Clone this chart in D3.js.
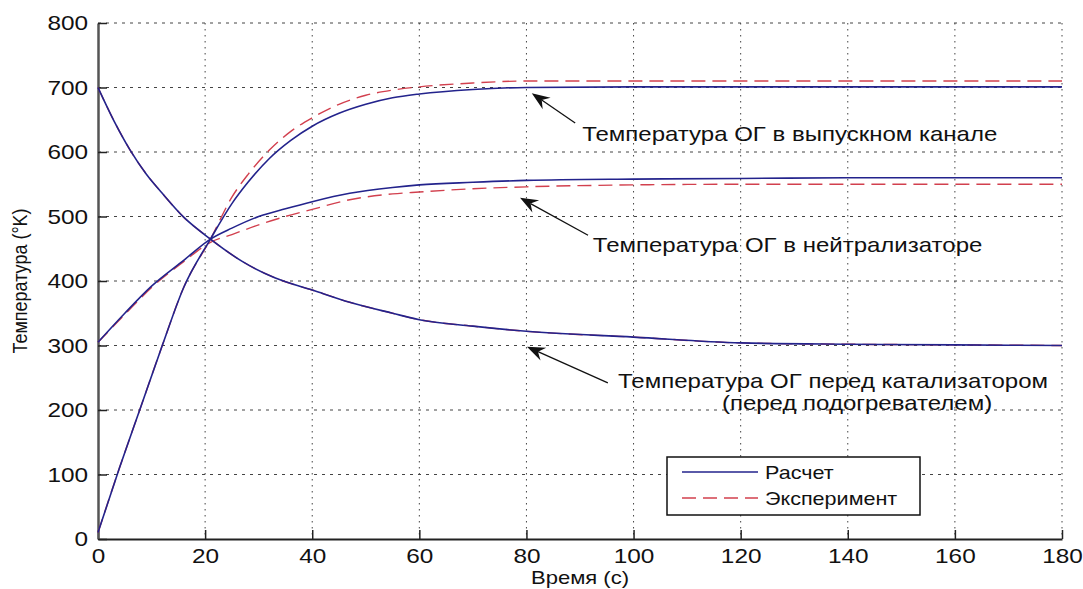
<!DOCTYPE html>
<html>
<head>
<meta charset="utf-8">
<script src="https://cdn.jsdelivr.net/npm/d3@7"></script>
<style>
  body { margin: 0; background: #fff; }
  text { font-family: "Liberation Sans", Arial, sans-serif; fill: #111; }
</style>
</head>
<body>
<div id="wrapper"></div>
<script>
// data: time (s) and temperature (K)
const timeExhaust = [0, 4, 8, 12, 16, 21, 25, 28, 32, 36, 40, 45, 50, 55, 60, 70, 80, 100, 120, 140, 160, 180]
const exhaustCalc = [10, 110, 205, 300, 390, 465, 520, 553, 590, 618, 640, 660, 674, 684, 690, 697, 700, 701, 701, 701, 701, 701]
const exhaustExp  = [10, 110, 205, 300, 390, 465, 530, 565, 603, 632, 653, 674, 688, 696, 701, 707, 710, 710, 710, 710, 710, 710]

const timeNeutr = [0, 5, 10, 16, 21, 25, 30, 35, 40, 47, 55, 60, 70, 80, 100, 120, 140, 160, 180]
const neutrCalc = [305, 350, 392, 432, 465, 482, 500, 512, 523, 536, 545, 549, 553, 556, 558, 559, 560, 560, 560]
const neutrExp  = [305, 348, 390, 430, 460, 472, 487, 500, 511, 526, 535, 538, 543, 546, 549, 550, 550, 550, 550]

const timeCat = [0, 3, 6, 9, 12, 16, 21, 27, 33, 40, 47, 55, 60, 70, 80, 100, 120, 140, 160, 180]
const catCalc = [700, 648, 603, 566, 536, 499, 465, 430, 405, 386, 367, 350, 340, 330, 322, 313, 304, 302, 301, 300]
const catExp  = [700, 648, 603, 566, 536, 499, 465, 430, 405, 386, 367, 350, 340, 330, 322, 313, 304, 302, 301, 300]

const xTicks = [0, 20, 40, 60, 80, 100, 120, 140, 160, 180]
const yTicks = [0, 100, 200, 300, 400, 500, 600, 700, 800]

const legendLabels = ["Расчет", "Эксперимент"]

// annotations: arrow tip, arrow tail, text lines (all in data units)
const annotations = [
  { tip: [81, 691], tail: [89.1, 645], lines: [{ t: 90.4, v: 617, s: "Температура ОГ в выпускном канале" }] },
  { tip: [78.8, 529], tail: [91.5, 471], lines: [{ t: 92.4, v: 445, s: "Температура ОГ в нейтрализаторе" }] },
  { tip: [80.1, 298], tail: [95.2, 242], lines: [
      { t: 97.1, v: 234, s: "Температура ОГ перед катализатором" },
      { t: 116.5, v: 200, s: "(перед подогревателем)" }] }
]

const calcColor = "#23238c"
const expColor = "#d2404e"
const sx = 1.16 // text in the picture is stretched a bit horizontally

const width = 1083
const height = 589
let dimensions = {
  width: width,
  height: height,
  margin: { top: 23, right: 21, bottom: 50, left: 98 },
}
dimensions.boundedWidth = dimensions.width - dimensions.margin.left - dimensions.margin.right
dimensions.boundedHeight = dimensions.height - dimensions.margin.top - dimensions.margin.bottom

const svg = d3.select("#wrapper")
  .append("svg")
  .attr("width", dimensions.width)
  .attr("height", dimensions.height)

const bounds = svg.append("g")
  .attr("transform", `translate(${dimensions.margin.left},${dimensions.margin.top})`)

const xScaler = d3.scaleLinear().domain([0, 180]).range([0, dimensions.boundedWidth])
const yScaler = d3.scaleLinear().domain([0, 800]).range([dimensions.boundedHeight, 0])

// grid
bounds.append("g")
  .selectAll("line")
  .data(xTicks.filter(d => d > 0))
  .join("line")
  .attr("x1", d => xScaler(d)).attr("x2", d => xScaler(d))
  .attr("y1", 0).attr("y2", dimensions.boundedHeight)
  .attr("stroke", "#444")
  .attr("stroke-width", 1)
  .attr("stroke-dasharray", "1.5,4.5")

bounds.append("g")
  .selectAll("line")
  .data(yTicks.filter(d => d > 0))
  .join("line")
  .attr("x1", 0).attr("x2", dimensions.boundedWidth)
  .attr("y1", d => yScaler(d)).attr("y2", d => yScaler(d))
  .attr("stroke", "#444")
  .attr("stroke-width", 1)
  .attr("stroke-dasharray", "3,5")

// axes
const xAxis = bounds.append("g")
  .attr("transform", `translate(0,${dimensions.boundedHeight})`)
  .call(d3.axisBottom(xScaler).tickValues(xTicks).tickSize(-9).tickPadding(9).tickSizeOuter(0))
const yAxis = bounds.append("g")
  .call(d3.axisLeft(yScaler).tickValues(yTicks).tickSize(-9).tickPadding(9).tickSizeOuter(0))

xAxis.select(".domain").attr("stroke", "#222").attr("stroke-width", 2)
yAxis.select(".domain").attr("stroke", "#555").attr("stroke-width", 2.5)
xAxis.selectAll(".tick line").attr("stroke", "#222").attr("stroke-width", 1.5)
yAxis.selectAll(".tick line").attr("stroke", "#222").attr("stroke-width", 1.5)
svg.selectAll(".tick text")
  .attr("font-size", 21)
  .attr("font-family", "Liberation Sans, Arial, sans-serif")
  .attr("fill", "#222")
yAxis.selectAll(".tick text").attr("transform", `scale(${sx},1)`).attr("x", -8.6)
xAxis.selectAll(".tick text").attr("transform", `scale(${sx},1)`)

// axis labels
bounds.append("text")
  .attr("transform", `translate(${dimensions.boundedWidth / 2},${dimensions.boundedHeight + 45}) scale(${sx},1)`)
  .attr("text-anchor", "middle")
  .attr("font-size", 19)
  .text("Время (с)")

bounds.append("text")
  .attr("transform", `translate(-71,${dimensions.boundedHeight / 2}) rotate(-90) scale(1,${sx})`)
  .attr("text-anchor", "middle")
  .attr("font-size", 18)
  .text("Температура (°K)")

// curves
const drawLine = (times, values, color, dash, w) => {
  const lineGen = d3.line()
    .x((d, i) => xScaler(times[i]))
    .y(d => yScaler(d))
    .curve(d3.curveMonotoneX)
  bounds.append("path")
    .attr("d", lineGen(values))
    .attr("fill", "none")
    .attr("stroke", color)
    .attr("stroke-width", w)
    .attr("stroke-dasharray", dash)
}

drawLine(timeExhaust, exhaustExp, expColor, "14,7", 1.4)
drawLine(timeNeutr, neutrExp, expColor, "14,7", 1.4)
drawLine(timeCat, catExp, expColor, "14,7", 1.4)
drawLine(timeExhaust, exhaustCalc, calcColor, null, 1.6)
drawLine(timeNeutr, neutrCalc, calcColor, null, 1.6)
drawLine(timeCat, catCalc, calcColor, null, 1.6)

// annotation arrows and text
annotations.forEach(a => {
  const tx = xScaler(a.tip[0]), ty = yScaler(a.tip[1])
  const bx = xScaler(a.tail[0]), by = yScaler(a.tail[1])
  const ang = Math.atan2(ty - by, tx - bx)
  const len = 18, half = 7, notch = 12
  const ux = Math.cos(ang), uy = Math.sin(ang)
  const px = -uy, py = ux
  bounds.append("line")
    .attr("x1", bx).attr("y1", by)
    .attr("x2", tx - ux * notch).attr("y2", ty - uy * notch)
    .attr("stroke", "#111").attr("stroke-width", 1.3)
  const pts = [
    [tx, ty],
    [tx - ux * len + px * half, ty - uy * len + py * half],
    [tx - ux * notch, ty - uy * notch],
    [tx - ux * len - px * half, ty - uy * len - py * half],
  ]
  bounds.append("path")
    .attr("d", "M" + pts.map(p => p.join(",")).join("L") + "Z")
    .attr("fill", "#111")
  a.lines.forEach(l => {
    bounds.append("text")
      .attr("transform", `translate(${xScaler(l.t)},${yScaler(l.v)}) scale(${sx},1)`)
      .attr("font-size", 20.7)
      .text(l.s)
  })
})

// legend
const legend = svg.append("g").attr("transform", "translate(667,457)")
legend.append("rect")
  .attr("width", 253).attr("height", 58)
  .attr("fill", "#fff").attr("stroke", "#111").attr("stroke-width", 1.5)
legendLabels.forEach((lab, i) => {
  const yy = 15 + i * 26
  legend.append("line")
    .attr("x1", 15).attr("x2", 91).attr("y1", yy).attr("y2", yy)
    .attr("stroke", i === 0 ? calcColor : expColor)
    .attr("stroke-width", 1.5)
    .attr("stroke-dasharray", i === 0 ? null : "14,7")
  legend.append("text")
    .attr("transform", `translate(98,${yy + 7}) scale(${sx},1)`)
    .attr("font-size", 18.6)
    .text(lab)
})
</script>
</body>
</html>
